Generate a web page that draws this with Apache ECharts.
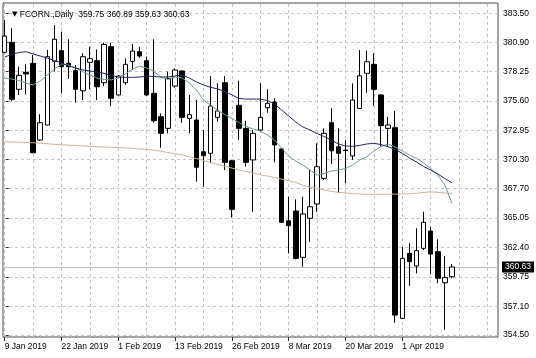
<!DOCTYPE html>
<html>
<head>
<meta charset="utf-8">
<script src="https://cdn.jsdelivr.net/npm/echarts@6/dist/echarts.min.js"></script>
<style>
html,body{margin:0;padding:0;background:#fff;}
#c{width:536px;height:358px;}
</style>
</head>
<body>
<div id="c"></div>
<script>
// Trading days (bar index 0..63)
const dates = [
 '2019-01-09','2019-01-10','2019-01-11','2019-01-14','2019-01-15','2019-01-16','2019-01-17','2019-01-18',
 '2019-01-22','2019-01-23','2019-01-24','2019-01-25','2019-01-28','2019-01-29','2019-01-30','2019-01-31',
 '2019-02-01','2019-02-04','2019-02-05','2019-02-06','2019-02-07','2019-02-08','2019-02-11','2019-02-12',
 '2019-02-13','2019-02-14','2019-02-15','2019-02-19','2019-02-20','2019-02-21','2019-02-22','2019-02-25',
 '2019-02-26','2019-02-27','2019-02-28','2019-03-01','2019-03-04','2019-03-05','2019-03-06','2019-03-07',
 '2019-03-08','2019-03-11','2019-03-12','2019-03-13','2019-03-14','2019-03-15','2019-03-18','2019-03-19',
 '2019-03-20','2019-03-21','2019-03-22','2019-03-25','2019-03-26','2019-03-27','2019-03-28','2019-03-29',
 '2019-04-01','2019-04-02','2019-04-03','2019-04-04','2019-04-05','2019-04-08','2019-04-09','2019-04-10'
];
const openP = [379.98,380.88,376.65,378.18,378.99,372.08,373.43,379.14,380.13,378.99,378.33,376.52,379.08,379.23,377.24,380.49,
 376.14,377.24,379.17,380.04,379.23,376.29,374.18,373.13,376.94,378.30,374.03,373.88,371.02,370.88,374.12,377.24,
 370.21,375.21,373.13,370.28,372.98,374.99,375.50,371.27,364.80,365.68,361.50,365.02,366.31,368.62,373.64,371.47,
 371.17,370.64,374.93,378.09,378.90,376.14,373.13,373.19,356.00,361.86,360.72,362.31,363.87,362.01,359.21,359.75];
const highP = [382.90,382.15,378.69,378.90,379.74,374.39,380.19,382.45,381.84,381.16,378.84,379.89,380.49,380.25,380.85,380.85,
 377.94,379.44,380.73,380.49,379.59,381.16,374.48,378.24,378.54,378.33,376.14,375.68,372.98,377.85,377.19,377.85,
 370.28,377.42,373.82,372.98,377.19,376.65,375.84,371.33,366.97,366.73,366.97,369.37,371.78,373.13,374.93,373.13,
 372.08,377.19,380.19,380.13,379.89,376.20,374.18,374.69,362.43,362.77,364.12,365.61,364.27,363.13,361.62,360.89];
const lowP = [379.90,375.59,376.13,376.20,370.88,372.00,373.40,378.24,376.29,377.58,375.44,375.68,376.65,375.68,376.94,375.14,
 376.10,377.04,378.39,379.47,376.05,373.64,371.38,372.68,376.80,373.64,372.68,368.32,367.87,369.98,373.73,369.37,
 365.11,372.08,369.67,365.61,372.83,374.54,370.07,364.62,361.86,361.32,360.65,362.91,365.61,368.47,369.91,367.33,
 368.17,370.28,374.90,376.34,375.14,371.47,371.47,355.61,355.94,358.92,360.06,362.16,360.00,359.16,354.95,359.63];
const closeP = [381.45,375.75,377.91,378.03,370.93,373.64,379.59,381.16,378.69,378.69,376.65,379.59,379.41,376.88,380.70,375.84,
 377.85,378.90,380.10,379.65,376.14,373.82,372.68,377.64,378.39,374.12,374.36,369.62,370.66,375.14,374.69,370.07,
 365.83,373.13,370.07,372.68,374.12,375.39,371.63,364.66,364.35,361.41,365.41,366.06,369.67,372.68,371.11,370.88,
 371.13,375.68,377.87,379.14,376.65,373.37,373.43,356.30,361.41,361.11,362.10,364.66,361.80,359.61,359.67,360.63];
// Moving averages
const maNavy = [379.56,379.79,379.97,380.04,379.83,379.65,379.47,379.25,379.02,378.75,378.57,378.39,378.30,378.21,378.09,377.89,
 377.76,377.73,377.73,377.76,377.85,377.80,377.76,377.76,377.85,377.94,377.67,377.31,377.04,376.83,376.68,376.45,
 376.14,375.82,375.77,375.77,375.76,375.64,375.32,374.78,374.24,373.70,373.25,372.98,372.66,372.39,372.08,371.72,
 371.54,371.51,371.60,371.72,371.78,371.67,371.47,371.22,370.88,370.46,370.09,369.69,369.37,369.01,368.61,368.23];
const maTeal = [377.67,377.58,377.44,377.22,377.04,377.40,377.94,378.48,378.93,378.84,378.57,378.25,377.94,377.67,377.53,377.49,
 377.67,378.03,378.48,378.75,378.57,378.25,377.76,377.53,377.76,377.67,377.22,376.59,375.68,375.23,374.74,374.38,
 374.02,373.66,373.30,373.07,372.89,372.53,372.08,371.36,370.63,370.18,369.82,369.37,368.92,369.06,369.28,369.37,
 369.51,369.82,370.27,370.57,371.09,371.49,371.72,371.45,371.09,370.73,370.43,370.00,369.51,368.92,368.02,366.37];
const maTan = [371.92,371.90,371.88,371.85,371.83,371.79,371.74,371.69,371.65,371.62,371.58,371.54,371.51,371.48,371.45,371.42,
 371.39,371.36,371.33,371.27,371.22,371.18,371.06,370.95,370.84,370.73,370.57,370.41,370.23,370.05,369.87,369.71,
 369.55,369.37,369.24,369.10,368.95,368.83,368.70,368.56,368.41,368.25,368.00,367.84,367.71,367.57,367.45,367.36,
 367.30,367.26,367.21,367.18,367.18,367.18,367.19,367.20,367.21,367.23,367.27,367.35,367.41,367.36,367.30,367.27];
const yTicks = [354.50,357.10,359.75,362.40,365.05,367.70,370.30,372.95,375.60,378.25,380.90,383.50];
const xLabelIdx = [0,8,16,24,32,40,48,56];
const xGridIdx = [0,4,8,12,16,20,24,28,32,36,40,44,48,52,56,60,64,68];
const lastPrice = 360.63;
const headerText = 'FCORN.,Daily  359.75 360.89 359.63 360.63';

const MON = ['Jan','Feb','Mar','Apr','May','Jun','Jul','Aug','Sep','Oct','Nov','Dec'];
function fmtDate(s){ const p = s.split('-'); return (+p[2]) + ' ' + MON[+p[1]-1] + ' ' + p[0]; }

const candleData = dates.map((d,i)=>[i, openP[i], closeP[i], lowP[i], highP[i]]);
const FONT = '"Liberation Sans", Arial, sans-serif';

const chart = echarts.init(document.getElementById('c'), null, {renderer:'canvas'});
chart.setOption({
  animation:false,
  backgroundColor:'#fff',
  title:{
    text:'{t|▼} ' + headerText,
    left:7, top:5,
    textStyle:{fontSize:8.5, fontWeight:'normal', color:'#000', fontFamily:FONT,
      rich:{t:{fontSize:7, color:'#000', fontFamily:'"DejaVu Sans", sans-serif'}}}
  },
  grid:{left:3, right:38, top:3, bottom:21, show:true, borderColor:'#4a4a4a', borderWidth:1, backgroundColor:'#fff', containLabel:false},
  xAxis:{
    type:'value', min:-0.24, max:69.48,
    axisLine:{show:false}, splitLine:{show:false},
    axisTick:{show:true, length:4, lineStyle:{color:'#333'}, customValues:xLabelIdx},
    axisLabel:{show:true, customValues:xLabelIdx, formatter:v=>fmtDate(dates[Math.round(v)]),
      align:'left', margin:5, fontSize:8.5, color:'#000', fontFamily:FONT}
  },
  yAxis:{
    type:'value', position:'right', min:354.32, max:384.43, scale:true,
    axisLine:{show:false}, splitLine:{show:false},
    axisTick:{show:true, length:4, lineStyle:{color:'#333'}, customValues:yTicks},
    axisLabel:{show:true, customValues:yTicks, formatter:v=>v.toFixed(2), margin:5, fontSize:8.5, color:'#000', fontFamily:FONT}
  },
  series:[
    {
      type:'line', data:[], z:1, silent:true,
      markLine:{z:1, silent:true, symbol:'none', animation:false, label:{show:false},
        lineStyle:{color:'#c4c4c4', type:[3,3], width:1},
        data:[...yTicks.map(v=>({yAxis:v})), ...xGridIdx.map(v=>({xAxis:v}))]}
    },
    {
      type:'candlestick', z:3,
      dimensions:['idx','open','close','lowest','highest'],
      encode:{x:'idx', y:['open','close','lowest','highest']},
      data:candleData, barWidth:5,
      itemStyle:{color:'#fff', color0:'#000', borderColor:'#000', borderColor0:'#000', borderWidth:1},
      emphasis:{disabled:true},
      markLine:{z:2, silent:true, symbol:'none', animation:false,
        lineStyle:{color:'#bdbdbd', type:'solid', width:1},
        label:{show:true, position:'end', formatter:()=>lastPrice.toFixed(2), backgroundColor:'#000', color:'#fff',
          padding:[1,3,1,3], fontSize:8.5, fontFamily:FONT, distance:4},
        data:[{yAxis:lastPrice}]}
    },
    {type:'line', z:4, data:maTan.map((v,i)=>[i,v]), showSymbol:false, symbol:'none', silent:true,
      lineStyle:{color:'#c9b597', width:1}},
    {type:'line', z:4, data:maTeal.map((v,i)=>[i,v]), showSymbol:false, symbol:'none', silent:true,
      lineStyle:{color:'#6e9e8e', width:1}},
    {type:'line', z:4, data:maNavy.map((v,i)=>[i,v]), showSymbol:false, symbol:'none', silent:true,
      lineStyle:{color:'#23285e', width:1}}
  ]
});
</script>
</body>
</html>
